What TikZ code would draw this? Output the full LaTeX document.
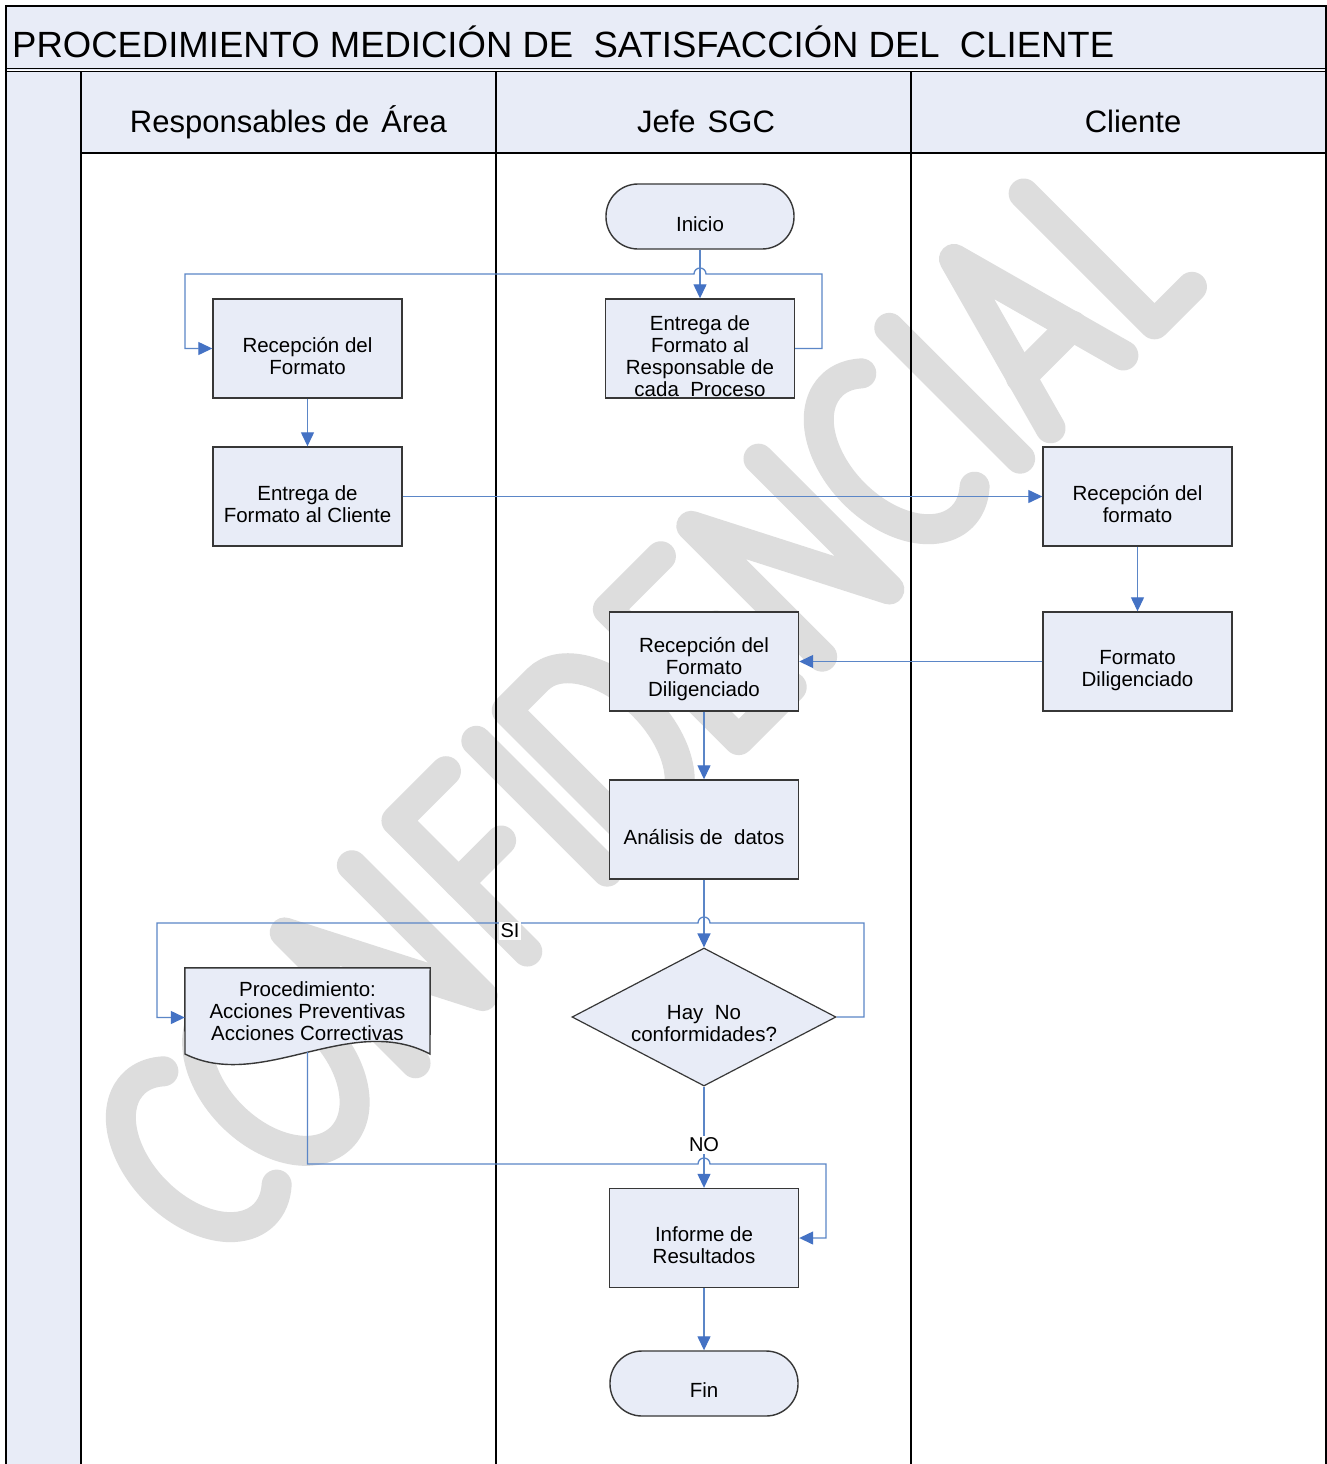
\documentclass[tikz,border=0pt]{standalone}
\usepackage{fontspec}
\setmainfont{Liberation Sans}
\usetikzlibrary{arrows.meta,shapes.geometric}

\definecolor{bandfill}{RGB}{232,236,247}
\definecolor{boxfill}{RGB}{232,236,247}
\definecolor{boxline}{RGB}{55,55,55}
\definecolor{flow}{RGB}{91,134,199}
\definecolor{flowtip}{RGB}{68,114,196}
\definecolor{stamp}{RGB}{221,221,221}

\begin{document}
\begin{tikzpicture}[x=1pt,y=-1pt,
  every node/.style={inner sep=0pt, font=\fontsize{20.5}{22}\selectfont},
  procbox/.style={draw=boxline, line width=1.4pt, fill=boxfill,
                  minimum width=189pt, minimum height=99pt},
  termbox/.style={draw=boxline, line width=1.4pt, fill=boxfill,
                  rounded corners=32pt, minimum width=188pt, minimum height=65pt},
  decbox/.style={draw=boxline, line width=1.2pt, fill=boxfill, diamond,
                 minimum width=264pt, minimum height=138pt},
  boxlabel/.style={align=center},
  lanehead/.style={anchor=base, font=\fontsize{31}{35}\selectfont},
  conn/.style={draw=flow, line width=1.3pt,
               -{Triangle[length=14pt,width=13pt,color=flowtip]}},
  flag/.style={fill=white, inner sep=2pt, font=\fontsize{20}{22}\selectfont},
  lane/.style={draw=black, line width=1.3pt}
]
\useasboundingbox (0,0) rectangle (1327,1464);
\fill[white] (0,0) rectangle (1327,1464);

% shaded bands: title, lane headers, left margin column
\fill[bandfill] (6,6) rectangle (1326,70);
\fill[bandfill] (81,72) rectangle (1326,153);
\fill[bandfill] (6,72) rectangle (81,1464);

% CONFIDENCIAL stamp, stroked letters on a 45 degree baseline
\begin{scope}[shift={(750,750)}, rotate=45, x=1pt, y=1pt,
              draw=stamp, line width=30pt, line cap=round, line join=round]
  \draw (-642,187.6) arc[start angle=60, end angle=300, x radius=60pt, y radius=92.5pt];
  \draw (-563,107.5) ellipse [x radius=62pt, y radius=92.5pt];
  \draw (-458,15) -- (-458,200) -- (-363,15) -- (-363,200);
  \draw (-230,200) -- (-300,200) -- (-300,15);
  \draw (-300,112) -- (-240,112);
  \draw (-187,15) -- (-187,200);
  \draw (-144,15) -- (-144,200) -- (-100,200)
        arc[start angle=90, end angle=-90, x radius=56pt, y radius=92.5pt] -- cycle;
  \draw (74,200) -- (-1,200) -- (-1,15) -- (74,15);
  \draw (-1,112) -- (64,112);
  \draw (117,15) -- (117,200) -- (212,15) -- (212,200);
  \draw (345,187.6) arc[start angle=60, end angle=300, x radius=60pt, y radius=92.5pt];
  \draw (397,15) -- (397,200);
  \draw (440,15) -- (491.5,203) -- (543,15);
  \draw (455,72) -- (528,72);
  \draw (587,200) -- (587,15) -- (640,15);
\end{scope}

% frame and swimlane rules
\draw[lane] (6,1464) -- (6,6) -- (1326,6) -- (1326,1464);
\draw[lane, line width=1.1pt] (6,68.5) -- (1326,68.5);
\draw[lane, line width=1.1pt] (6,71.5) -- (1326,71.5);
\draw[lane] (81,153) -- (1326,153);
\foreach \lx in {81,496,911} { \draw[lane] (\lx,72) -- (\lx,1464); }

% title and lane headers
\node[anchor=base west, font=\fontsize{36.5}{40}\selectfont] (title) at (12,57.5)
  {PROCEDIMIENTO MEDICIÓN DE\ \ SATISFACCIÓN DEL\ \ CLIENTE};
\node[lanehead] (hdrA) at (288.5,132) {Responsables de\hspace{12pt}Área};
\node[lanehead] (hdrB) at (706,132) {Jefe\hspace{12pt}SGC};
\node[lanehead] (hdrC) at (1133,132) {Cliente};

% flow shapes
\node[termbox] (ini) at (700,216.5) {};
\node[procbox] (ent1) at (700,348.5) {};
\node[procbox] (rec1) at (307.5,348.5) {};
\node[procbox] (ent2) at (307.5,496.5) {};
\node[procbox] (rec2) at (1137.5,496.5) {};
\node[procbox] (dil) at (1137.5,661.5) {};
\node[procbox] (rec3) at (704,661.5) {};
\node[procbox] (ana) at (704,829.5) {};
\node[decbox] (dec) at (704,1017) {};
\node[minimum width=245pt, minimum height=99pt] (doc) at (307.5,1017.5) {};
\filldraw[draw=boxline, fill=boxfill, line width=1.4pt]
  (doc.north west) -- (doc.north east) -- (430,1054)
  .. controls (350,1012) and (262,1092) .. (185,1054) -- cycle;
\node[procbox] (inf) at (704,1238) {};
\node[termbox] (fin) at (704,1383.5) {};

% texts of the shapes
\node[boxlabel] (ini-t) at ([yshift=-8pt]ini) {Inicio};
\node[boxlabel] (ent1-t) at ([yshift=-8pt]ent1) {Entrega de\\Formato al\\Responsable de\\cada\ \ Proceso};
\node[boxlabel] (rec1-t) at ([yshift=-8pt]rec1) {Recepción del\\Formato};
\node[boxlabel] (ent2-t) at ([yshift=-8pt]ent2) {Entrega de\\Formato al Cliente};
\node[boxlabel] (rec2-t) at ([yshift=-8pt]rec2) {Recepción del\\formato};
\node[boxlabel] (dil-t) at ([yshift=-9pt]dil) {Formato\\Diligenciado};
\node[boxlabel] (rec3-t) at ([yshift=-8pt]rec3) {Recepción del\\Formato\\Diligenciado};
\node[boxlabel] (ana-t) at ([yshift=-8pt]ana) {Análisis de\ \ datos};
\node[boxlabel] (dec-t) at ([yshift=-7pt]dec) {Hay\ \ No\\conformidades?};
\node[boxlabel] (doc-t) at ([yshift=6pt]doc) {Procedimiento:\\Acciones Preventivas\\Acciones Correctivas};
\node[boxlabel] (inf-t) at ([yshift=-7pt]inf) {Informe de\\Resultados};
\node[boxlabel] (fin-t) at ([yshift=-7pt]fin) {Fin};

% connectors
\draw[conn] (ini) -- (ent1);
\draw[conn] (ent1.east) -- (822,348.5) -- (822,274) -- (706,274)
  arc[start angle=0, end angle=180, radius=6pt] -- (185,274) |- (rec1.west);
\draw[conn] (rec1) -- (ent2);
\draw[conn] (ent2) -- (rec2);
\draw[conn] (rec2) -- (dil);
\draw[conn] (dil) -- (rec3);
\draw[conn] (rec3) -- (ana);
\draw[conn] (ana) -- (dec);
\draw[conn] (dec.east) -- (864,1017) -- (864,923) -- (710,923)
  arc[start angle=0, end angle=180, radius=6pt] -- (157,923) |- (doc.west);
\draw[conn] (dec) -- (inf);
\draw[conn] ([yshift=15pt]doc.south) |- (698,1164)
  arc[start angle=180, end angle=0, radius=6pt] -- (826,1164) |- (inf.east);
\draw[conn] (inf) -- (fin);

% branch labels
\node[flag] (si) at (510,931) {SI};
\node[flag] (no) at (704,1145) {NO};
\end{tikzpicture}
\end{document}
